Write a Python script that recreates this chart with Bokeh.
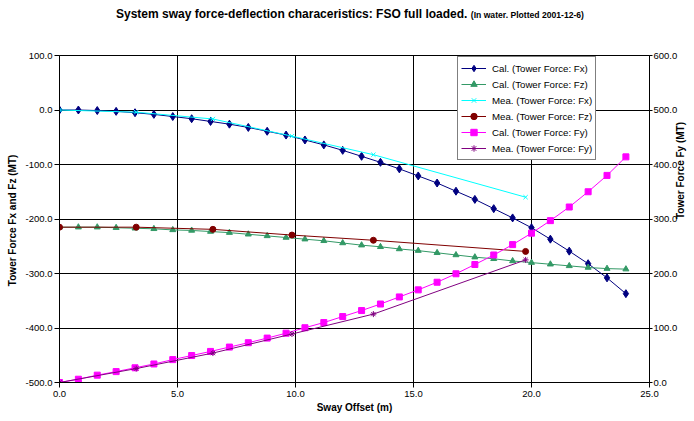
import math
from bokeh.plotting import figure
from bokeh.layouts import column
from bokeh.models import (Range1d, LinearAxis, Legend, LegendItem, Div,
                          FixedTicker, PrintfTickFormatter)
from bokeh.embed import file_html
from bokeh.resources import INLINE

# ---------------- data ----------------
x_cal = [0.0, 0.8, 1.6, 2.4, 3.2, 4.0, 4.8, 5.6, 6.4, 7.2, 8.0, 8.8, 9.6, 10.4,
         11.2, 12.0, 12.8, 13.6, 14.4, 15.2, 16.0, 16.8, 17.6, 18.4, 19.2, 20.0,
         20.8, 21.6, 22.4, 23.2, 24.0]
cal_fx = [0, 0, -1, -2.5, -5, -8, -12, -16, -21, -26, -32, -39, -46, -55, -64,
          -74, -85, -96, -108, -121, -134, -149, -164, -181, -198, -216, -237,
          -259, -282, -308, -337]
cal_fz = [-215, -215, -215, -216, -217, -218, -220, -221, -223, -225, -228, -231,
          -234, -237, -240, -244, -248, -251, -255, -258, -262, -266, -270, -273,
          -277, -280, -283, -286, -289, -291, -292]
cal_fy = [0, 6, 13.5, 20, 27, 34, 42, 49.5, 57, 65, 73, 81.5, 90.5, 100.5, 110,
          121, 132, 144, 157, 170, 184, 199.5, 216.5, 234, 253, 274, 297, 322,
          350, 380, 414]

x_mea = [0.0, 3.25, 6.5, 9.85, 13.3, 19.75]
mea_fx = [0, -4, -16.5, -48, -82, -160]
mea_fz = [-215, -215, -219, -229.5, -239, -259.5]
mea_fy = [0, 25.5, 54, 89, 125.5, 225]

x_ticks = [0, 5, 10, 15, 20, 25]
left_ticks = [-500, -400, -300, -200, -100, 0, 100]
right_ticks = [0, 100, 200, 300, 400, 500, 600]

labels = ["Cal. (Tower Force: Fx)", "Cal. (Tower Force: Fz)",
          "Mea. (Tower Force: Fx)", "Mea. (Tower Force: Fz)",
          "Cal. (Tower Force: Fy)", "Mea. (Tower Force: Fy)"]

title_main = "System sway force-deflection characeristics: FSO full loaded."
title_sub = "(In water. Plotted 2001-12-6)"
x_title = "Sway Offset (m)"
left_title = "Tower Force  Fx and Fz (MT)"
right_title = "Tower Force Fy (MT)"

FONT = "Liberation Sans"
NAVY = "#000080"
GREEN = "#339966"
CYAN = "#00FFFF"
DRED = "#800000"
MAG = "#FF00FF"
PURP = "#800080"

TITLE_H = 28

header = Div(
    text=('<div style="width:694px;box-sizing:border-box;padding-left:6px;'
          'text-align:center;font-family:\'Liberation Sans\',Arial,sans-serif;'
          'font-weight:bold;color:black;line-height:%dpx;white-space:nowrap;">'
          '<span style="font-size:12px;">%s</span> '
          '<span style="font-size:8.6px;">%s</span></div>') % (TITLE_H, title_main, title_sub),
    width=694, height=TITLE_H, margin=0)

p = figure(width=694, height=421 - TITLE_H, output_backend="svg",
           toolbar_location=None,
           x_range=Range1d(0, 25), y_range=Range1d(-500, 100),
           min_border_left=59, min_border_right=44, min_border_top=55 - TITLE_H,
           min_border_bottom=39)
p.extra_y_ranges = {"fy": Range1d(0, 600)}
p.background_fill_color = "white"
p.border_fill_color = "white"
p.outline_line_color = "black"

right = LinearAxis(y_range_name="fy")
p.add_layout(right, "right")

p.xaxis[0].ticker = FixedTicker(ticks=x_ticks)
p.yaxis[0].ticker = FixedTicker(ticks=left_ticks)
right.ticker = FixedTicker(ticks=right_ticks)

for ax in [p.xaxis[0], p.yaxis[0], right]:
    ax.formatter = PrintfTickFormatter(format="%.1f")
    ax.major_label_text_font = FONT
    ax.major_label_text_font_size = "9.5px"
    ax.major_label_text_color = "black"
    ax.axis_line_color = "black"
    ax.axis_line_width = 1
    ax.major_tick_line_color = "black"
    ax.major_tick_in = 0
    ax.major_tick_out = 5
    ax.minor_tick_line_color = None
    ax.major_label_standoff = 2
    ax.axis_label_text_font = FONT
    ax.axis_label_text_font_size = "10px"
    ax.axis_label_text_font_style = "bold"
    ax.axis_label_text_color = "black"

p.xaxis[0].major_label_standoff = 3
p.xaxis[0].axis_label = x_title
p.xaxis[0].axis_label_standoff = 2
p.yaxis[0].axis_label = left_title
p.yaxis[0].axis_label_standoff = 5
right.major_tick_out = 3
right.major_label_standoff = 1
right.axis_label = right_title
right.axis_label_standoff = 0
try:
    right.axis_label_orientation = math.pi / 2
except AttributeError:
    pass

p.xgrid.ticker = FixedTicker(ticks=x_ticks)
p.ygrid.ticker = FixedTicker(ticks=left_ticks)
for g in [p.xgrid[0], p.ygrid[0]]:
    g.grid_line_color = "black"
    g.grid_line_width = 1

# ---------------- series ----------------
r1l = p.line(x_cal, cal_fx, color=NAVY, line_width=1)
r1m = p.scatter(x_cal, cal_fx, marker="diamond", size=8, color=NAVY)
r2l = p.line(x_cal, cal_fz, color=GREEN, line_width=1)
r2m = p.scatter(x_cal, cal_fz, marker="triangle", size=6, color=GREEN)
r3l = p.line(x_mea, mea_fx, color=CYAN, line_width=1)
r3m = p.scatter(x_mea, mea_fx, marker="x", size=6, color=CYAN, line_width=1)
r4l = p.line(x_mea, mea_fz, color=DRED, line_width=1)
r4m = p.scatter(x_mea, mea_fz, marker="circle", size=6, color=DRED)
r5l = p.line(x_cal, cal_fy, color=MAG, line_width=1, y_range_name="fy")
r5m = p.scatter(x_cal, cal_fy, marker="square", size=6, color=MAG, y_range_name="fy")
r6l = p.line(x_mea, mea_fy, color=PURP, line_width=1, y_range_name="fy")
r6m = p.scatter(x_mea, mea_fy, marker="asterisk", size=6, color=PURP,
                line_width=1, y_range_name="fy")

rends = [(r1l, r1m), (r2l, r2m), (r3l, r3m), (r4l, r4m), (r5l, r5m), (r6l, r6m)]
legend = Legend(items=[LegendItem(label=lab, renderers=list(rr))
                       for lab, rr in zip(labels, rends)],
                location=(398, 222))
legend.border_line_color = "black"
legend.border_line_width = 1
legend.background_fill_color = "white"
legend.background_fill_alpha = 1
legend.label_text_font = FONT
legend.label_text_font_size = "9.7px"
legend.label_text_color = "black"
legend.glyph_width = 25
legend.glyph_height = 16
legend.label_height = 16
legend.spacing = 0
legend.padding = 3
legend.margin = 0
legend.label_standoff = 6
p.add_layout(legend)

layout = column(header, p, spacing=0)
open("out.html", "w").write(file_html(layout, INLINE))
